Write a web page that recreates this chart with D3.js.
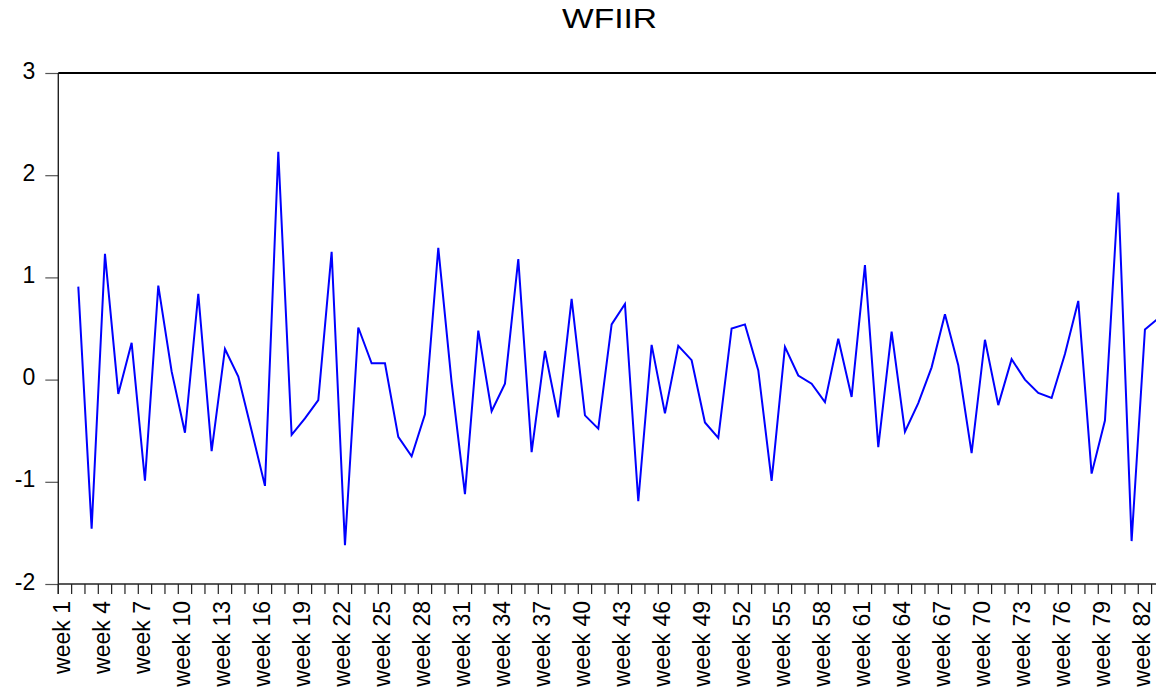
<!DOCTYPE html>
<meta charset="utf-8">
<html>
<head>
    <title>WFIIR</title>
</head>
<style type="text/css">
    body{ margin:0; background:#fff; }
    text{ font-family: "Liberation Sans", Arial, sans-serif; fill:#000; }
</style>
<script src="https://d3js.org/d3.v7.min.js"></script>
<body>
<script type="text/javascript">
// weekly series, week 1 has no value (return series)
var weekCount = 83
var weeks = d3.range(1, weekCount + 1).map(i => "week " + i)
var labelEvery = 3
var yTicks = [-2, -1, 0, 1, 2, 3]
var wfiir = [null, 0.91, -1.46, 1.23, -0.14, 0.36, -0.99, 0.92, 0.08, -0.52,
    0.84, -0.70, 0.30, 0.03, -0.50, -1.04, 2.23, -0.54, -0.38, -0.20,
    1.25, -1.62, 0.51, 0.16, 0.16, -0.56, -0.75, -0.34, 1.29, -0.03,
    -1.12, 0.48, -0.31, -0.04, 1.18, -0.71, 0.28, -0.37, 0.79, -0.35,
    -0.48, 0.54, 0.74, -1.19, 0.34, -0.33, 0.33, 0.19, -0.42, -0.57,
    0.50, 0.54, 0.09, -0.99, 0.32, 0.04, -0.04, -0.22, 0.40, -0.17,
    1.12, -0.66, 0.47, -0.51, -0.23, 0.12, 0.64, 0.14, -0.72, 0.39,
    -0.25, 0.20, 0.00, -0.13, -0.18, 0.25, 0.77, -0.92, -0.40, 1.83,
    -1.58, 0.49, 0.60]

var svgWidth = 1156, svgHeight = 690
var svg = d3.select("body").append("svg")
    .attr("width", svgWidth)
    .attr("height", svgHeight)

var plotLeft = 58.3, plotTop = 73, plotBottom = 584, step = 13.333
var plotRight = plotLeft + weekCount * step

var x = d3.scaleBand().domain(weeks).range([plotLeft, plotRight]).padding(0)
var y = d3.scaleLinear().domain([-2, 3]).range([plotBottom, plotTop])

// title
svg.append("text")
    .attr("x", 609.5)
    .attr("y", 28)
    .attr("text-anchor", "middle")
    .attr("textLength", 95)
    .attr("lengthAdjust", "spacingAndGlyphs")
    .style("font-size", "28px")
    .text("WFIIR")

// y axis
var yAxis = svg.append("g")
    .attr("transform", `translate(${plotLeft},0)`)
    .call(d3.axisLeft(y).tickValues(yTicks).tickSize(13).tickPadding(10).tickFormat(d => String(d)))
yAxis.select(".domain").remove()
yAxis.selectAll(".tick line").attr("stroke", "#555").attr("stroke-width", 1.2)
yAxis.selectAll(".tick text")
    .style("font-size", "23px")
    .style("font-family", "Liberation Sans, Arial, sans-serif")
    .attr("dy", "0.22em")

// x ticks at observation boundaries
var bounds = weeks.map(w => x(w)).concat([plotRight])
svg.selectAll("line.xtick")
    .data(bounds)
    .enter()
    .append("line")
    .attr("class", "xtick")
    .attr("x1", d => d).attr("x2", d => d)
    .attr("y1", plotBottom).attr("y2", plotBottom + 10)
    .attr("stroke", "#222")
    .attr("stroke-width", 1.2)

// x labels
svg.selectAll("text.xlabel")
    .data(weeks.filter((d, i) => i % labelEvery == 0))
    .enter()
    .append("text")
    .attr("class", "xlabel")
    .attr("transform", d => `translate(${x(d) + x.bandwidth() / 2 + 5},601) rotate(-90)`)
    .attr("text-anchor", "end")
    .style("font-size", "23px")
    .text(d => d)

// frame
svg.append("line")
    .attr("x1", plotLeft).attr("x2", plotLeft).attr("y1", plotTop).attr("y2", plotBottom + 10)
    .attr("stroke", "#222").attr("stroke-width", 1.4)
svg.append("line")
    .attr("x1", plotLeft).attr("x2", plotRight).attr("y1", plotBottom).attr("y2", plotBottom)
    .attr("stroke", "#222").attr("stroke-width", 1.5)
svg.append("line")
    .attr("x1", plotLeft).attr("x2", plotRight).attr("y1", plotTop).attr("y2", plotTop)
    .attr("stroke", "#000").attr("stroke-width", 2)
svg.append("line")
    .attr("x1", plotRight).attr("x2", plotRight).attr("y1", plotTop).attr("y2", plotBottom)
    .attr("stroke", "#000").attr("stroke-width", 2)

// series line
var line = d3.line()
    .defined(d => d.v != null)
    .x(d => x(d.week) + x.bandwidth() / 2)
    .y(d => y(d.v))

svg.append("path")
    .datum(weeks.map((w, i) => ({week: w, v: wfiir[i]})))
    .attr("d", line)
    .attr("fill", "none")
    .attr("stroke", "#0000ff")
    .attr("stroke-width", 2)
    .attr("stroke-linejoin", "miter")
</script>
</body>
</html>
